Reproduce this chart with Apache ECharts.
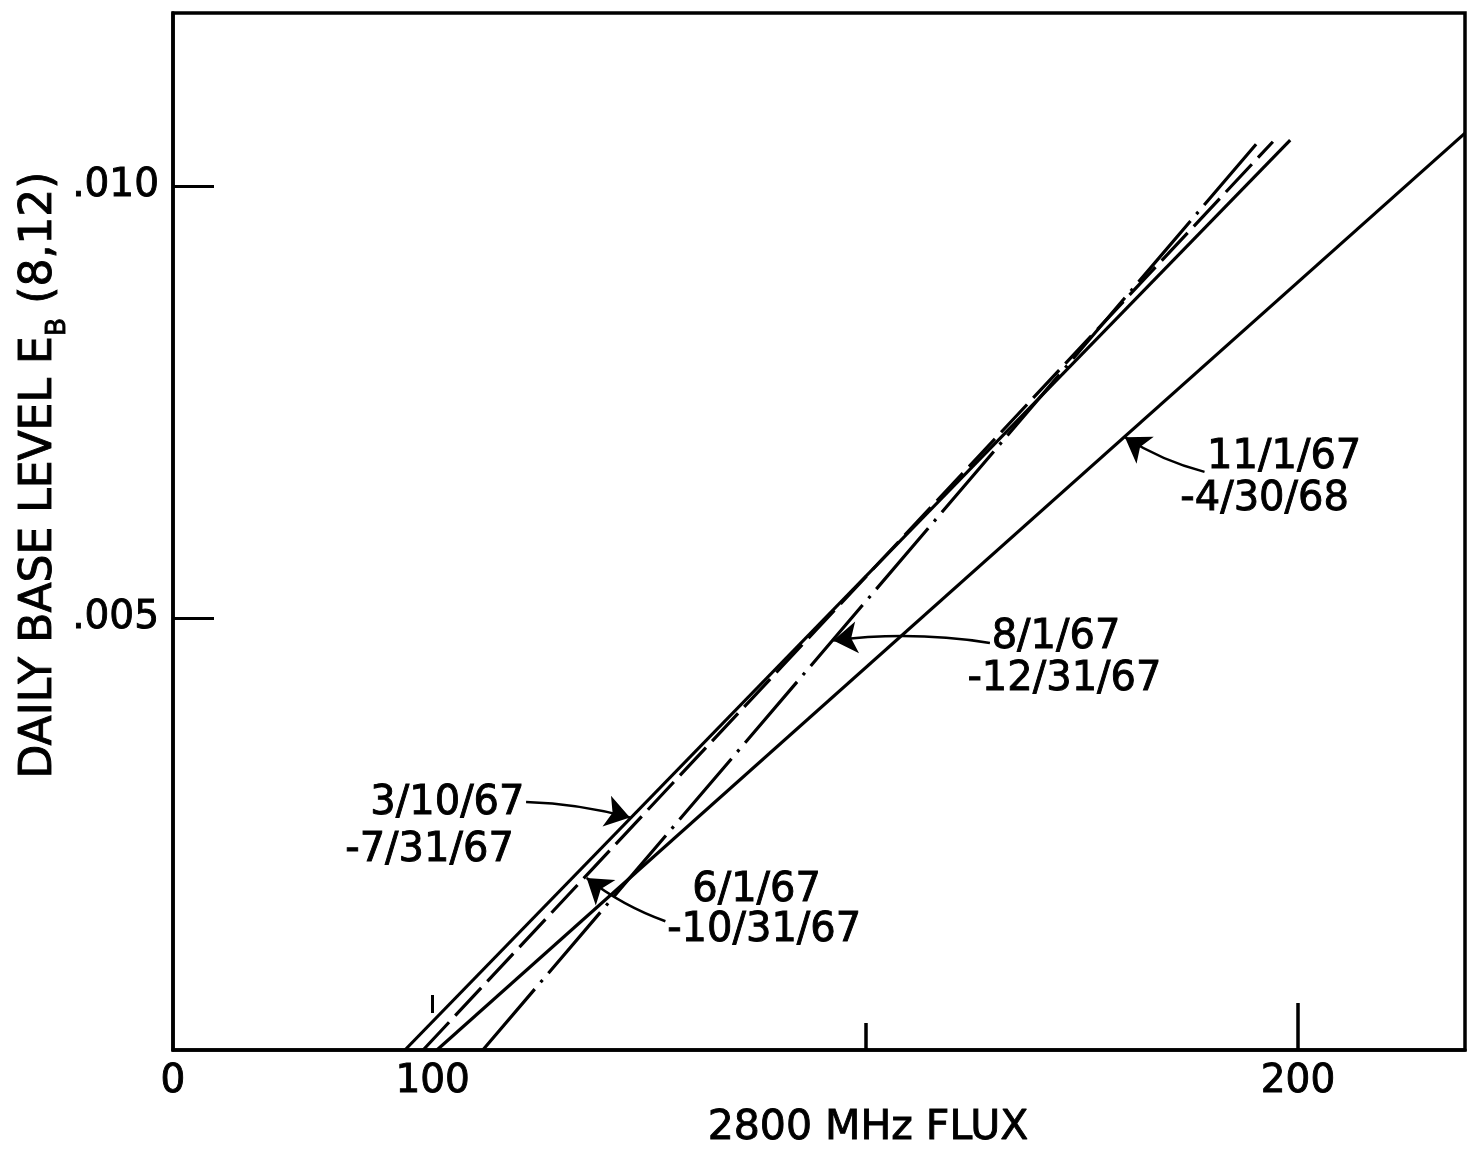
<!DOCTYPE html>
<html><head><meta charset="utf-8">
<script src="https://cdn.jsdelivr.net/npm/echarts@6/dist/echarts.min.js"></script>
<style>html,body{margin:0;padding:0;background:#fff}#c{width:1469px;height:1157px}</style>
</head><body><div id="c"></div>
<script>
// ---- data ----
const seriesNames = ['3/10/67-7/31/67', '6/1/67-10/31/67', '8/1/67-12/31/67', '11/1/67-4/30/68'];
const line_3_10_67 = [[96.8, 0], [199.1, 0.01053]];
const line_6_1_67  = [[98.9, 0], [197.1, 0.01051]];
const line_8_1_67  = [[105.8, 0], [195.4, 0.01051]];
const line_11_1_67 = [[100.5, 0], [219.3, 0.01061]];
const xLabelValues = [70, 100, 200];
const xLabelTexts  = ['0', '100', '200'];
const xMajorTick = [200];
const xMinorTick = [150];
const xStrayTick = [100];
const yTickValues = [0.005, 0.010];
const yTickLabels = ['.005', '.010'];
// annotation text lines, anchored (left edge) in data coordinates
const annotLines = [
  ['11/1/67', 189.5, 0.00686], ['-4/30/68', 186.4, 0.00637],
  ['8/1/67', 164.6, 0.00477], ['-12/31/67', 161.8, 0.00429],
  ['3/10/67', 92.8, 0.00285], ['-7/31/67', 89.9, 0.00231],
  ['6/1/67', 130.0, 0.00184], ['-10/31/67', 127.1, 0.00138]
];
// arrows: [tail x, tail y, tip x, tip y, curveness]
const arrows = [
  [189.2, 0.00669, 180.0, 0.00709, 0.08],
  [164.4, 0.00471, 146.3, 0.00474, -0.07],
  [110.8, 0.00287, 122.8, 0.00269, 0.06],
  [126.9, 0.00149, 117.8, 0.00199, 0.08]
];

const FONT = 'DejaVu Sans';
const TXT = {color: '#000', fontFamily: FONT, textBorderColor: '#000', textBorderWidth: 0.9};
const chart = echarts.init(document.getElementById('c'), null, {renderer: 'canvas'});
const fmtX = v => { const i = xLabelValues.indexOf(v); return i >= 0 ? xLabelTexts[i] : ''; };
const fmtY = v => { const i = yTickValues.findIndex(t => Math.abs(t - v) < 1e-9); return i >= 0 ? yTickLabels[i] : ''; };

const xBase = {type: 'value', min: 70, max: 219.3, splitLine: {show: false}, position: 'bottom'};
const lineStyles = [
  {type: 'solid'},
  {type: [38, 9]},
  {type: [80, 9, 3, 9]},
  {type: 'solid'}
];
const lineData = [line_3_10_67, line_6_1_67, line_8_1_67, line_11_1_67];

chart.setOption({
  animation: false,
  backgroundColor: '#fff',
  grid: {left: 173, right: 4, top: 13, bottom: 107, show: true, borderColor: '#000', borderWidth: 3.5},
  xAxis: [
    Object.assign({}, xBase, {
      axisLine: {show: true, lineStyle: {color: '#000', width: 3.5}},
      axisTick: {show: true, inside: true, length: 27, customValues: xMinorTick, lineStyle: {color: '#000', width: 3.5}},
      axisLabel: Object.assign({show: true, customValues: xLabelValues, formatter: fmtX, fontSize: 39, margin: 12}, TXT)
    }),
    Object.assign({}, xBase, {
      axisLine: {show: false},
      axisTick: {show: true, inside: true, length: 47, customValues: xMajorTick, lineStyle: {color: '#000', width: 3.5}},
      axisLabel: {show: false}
    }),
    Object.assign({}, xBase, {
      offset: -37,
      axisLine: {show: false},
      axisTick: {show: true, inside: true, length: 18, customValues: xStrayTick, lineStyle: {color: '#000', width: 3}},
      axisLabel: {show: false}
    })
  ],
  yAxis: {
    type: 'value', min: 0, max: 0.012, splitLine: {show: false},
    axisLine: {show: true, lineStyle: {color: '#000', width: 3.5}},
    axisTick: {show: true, inside: true, length: 41, customValues: yTickValues, lineStyle: {color: '#000', width: 3}},
    axisLabel: Object.assign({show: true, customValues: yTickValues, formatter: fmtY, fontSize: 39, margin: 14}, TXT)
  },
  series: lineData.map((d, i) => ({
    name: seriesNames[i], type: 'line', data: d, symbol: 'none', silent: true,
    lineStyle: Object.assign({color: '#000', width: 3.2}, lineStyles[i])
  })).concat([{
    type: 'scatter', name: 'annotations', silent: true, symbolSize: 0,
    itemStyle: {opacity: 1, color: '#000'},
    data: annotLines.map(a => ({name: a[0], value: [a[1], a[2]]})),
    label: Object.assign({show: true, position: [0, 0], align: 'left', verticalAlign: 'middle', opacity: 1,
      formatter: p => p.name, fontSize: 40}, TXT)
  }, {
    type: 'lines', name: 'arrows', coordinateSystem: 'cartesian2d', silent: true,
    symbol: ['none', 'arrow'], symbolSize: [13, 24],
    data: arrows.map(a => ({
      coords: [[a[0], a[1]], [a[2], a[3]]],
      lineStyle: {curveness: a[4]}
    })),
    lineStyle: {color: '#000', width: 2.5, opacity: 1, type: 'solid'},
    itemStyle: {color: '#000'}
  }]),
  graphic: [
    {type: 'text', x: 868, y: 1128,
      style: {text: '2800 MHz FLUX', fontFamily: FONT, fontSize: 41, fill: '#000', stroke: '#000', lineWidth: 0.9,
        align: 'center', verticalAlign: 'middle'}},
    {type: 'text', x: 40, y: 475, rotation: Math.PI / 2,
      style: {text: 'DAILY BASE LEVEL E{sub|B} (8,12)', fontFamily: FONT, fontSize: 44, fill: '#000',
        stroke: '#000', lineWidth: 0.9,
        align: 'center', verticalAlign: 'middle', lineHeight: 62,
        rich: {sub: {fontSize: 27, fontFamily: FONT, verticalAlign: 'bottom', lineHeight: 62, fill: '#000', stroke: '#000', lineWidth: 0.9}}}}
  ]
});
</script></body></html>
